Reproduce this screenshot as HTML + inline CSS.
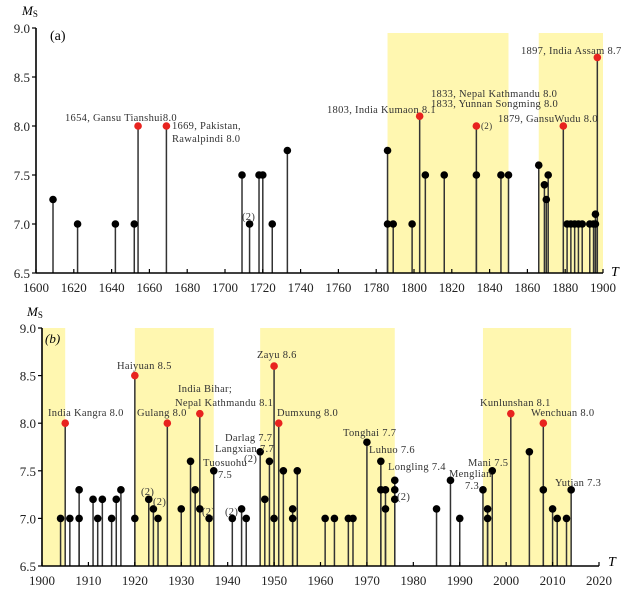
<!DOCTYPE html>
<html><head><meta charset="utf-8">
<style>
html,body{margin:0;padding:0;background:#fff;}
svg{display:block;font-family:"Liberation Serif",serif;}
.tk{font-size:13px;fill:#222;}
.an{font-size:10.5px;fill:#333;letter-spacing:0.3px;}
</style></head>
<body>
<svg id="chart" width="632" height="592" viewBox="0 0 632 592" xmlns="http://www.w3.org/2000/svg">
<g id="pa"></g>
<g id="pb"></g>
<g>
<text class="an" x="65" y="121">1654, Gansu Tianshui8.0</text>
<text class="an" x="172" y="129">1669, Pakistan,</text>
<text class="an" x="172" y="142">Rawalpindi 8.0</text>
<text class="an" x="242" y="220">(2)</text>
<text class="an" x="327" y="113">1803, India Kumaon 8.1</text>
<text class="an" x="431" y="97">1833, Nepal Kathmandu 8.0</text>
<text class="an" x="431" y="107">1833, Yunnan Songming 8.0</text>
<text class="an" x="481" y="129" style="font-size:9px">(2)</text>
<text class="an" x="498" y="122">1879, GansuWudu 8.0</text>
<text class="an" x="521" y="54">1897, India Assam 8.7</text>
<text x="50" y="40" style="font-size:14px">(a)</text>
<text x="22" y="15" style="font-size:13px"><tspan font-style="italic">M</tspan><tspan font-size="9" dy="2">S</tspan></text>
<text x="611" y="276" style="font-size:14px;font-style:italic">T</text>
</g>
<g>
<text x="45" y="343" style="font-size:13px;font-style:italic">(b)</text>
<text x="27" y="316" style="font-size:13px"><tspan font-style="italic">M</tspan><tspan font-size="9" dy="2">S</tspan></text>
<text x="608" y="566" style="font-size:14px;font-style:italic">T</text>
<text class="an" x="48" y="416">India Kangra 8.0</text>
<text class="an" x="117" y="369">Haiyuan 8.5</text>
<text class="an" x="137" y="416">Gulang 8.0</text>
<text class="an" x="178" y="392">India  Bihar;</text>
<text class="an" x="175" y="406">Nepal Kathmandu 8.1</text>
<text class="an" x="203" y="466">Tuosuohu</text>
<text class="an" x="218" y="478">7.5</text>
<text class="an" x="141" y="495">(2)</text>
<text class="an" x="153" y="505">(2)</text>
<text class="an" x="202" y="515">(2)</text>
<text class="an" x="225" y="515">(2)</text>
<text class="an" x="225" y="441">Darlag 7.7</text>
<text class="an" x="215" y="452">Langxian 7.7</text>
<text class="an" x="244" y="462">(2)</text>
<text class="an" x="257" y="358">Zayu 8.6</text>
<text class="an" x="277" y="416">Dumxung 8.0</text>
<text class="an" x="343" y="436">Tonghai 7.7</text>
<text class="an" x="369" y="453">Luhuo 7.6</text>
<text class="an" x="388" y="470">Longling 7.4</text>
<text class="an" x="397" y="500">(2)</text>
<text class="an" x="449" y="477">Menglian</text>
<text class="an" x="465" y="489">7.3</text>
<text class="an" x="468" y="466">Mani 7.5</text>
<text class="an" x="480" y="406">Kunlunshan 8.1</text>
<text class="an" x="531" y="416">Wenchuan 8.0</text>
<text class="an" x="555" y="486">Yutian 7.3</text>
</g>
</svg>
<script>
// Panel A data
const yearsA=[1609,1622,1642,1652,1654,1669,1709,1713,1718,1720,1725,1733,1786,1786,1789,1799,1803,1806,1816,1833,1833,1846,1850,1866,1869,1870,1871,1879,1881,1883,1885,1887,1889,1893,1895,1896,1896,1897];
const magsA=[7.25,7.0,7.0,7.0,8.0,8.0,7.5,7.0,7.5,7.5,7.0,7.75,7.75,7.0,7.0,7.0,8.1,7.5,7.5,8.0,7.5,7.5,7.5,7.6,7.4,7.25,7.5,8.0,7.0,7.0,7.0,7.0,7.0,7.0,7.0,7.1,7.0,8.7];
const redA=[0,0,0,0,1,1,0,0,0,0,0,0,0,0,0,0,1,0,0,1,0,0,0,0,0,0,0,1,0,0,0,0,0,0,0,0,0,1];
const shadeA=[[1786,1850],[1866,1900]];
const ticksXA=[1600,1620,1640,1660,1680,1700,1720,1740,1760,1780,1800,1820,1840,1860,1880,1900];
const ticksY=[6.5,7.0,7.5,8.0,8.5,9.0];
// Panel B data
const yearsB=[1904,1905,1906,1908,1908,1911,1912,1913,1915,1916,1917,1920,1920,1923,1924,1925,1927,1930,1932,1933,1934,1934,1936,1937,1941,1943,1944,1947,1948,1949,1950,1950,1951,1952,1954,1954,1955,1961,1963,1966,1967,1970,1973,1973,1974,1974,1976,1976,1976,1985,1988,1990,1995,1996,1996,1997,2001,2005,2008,2008,2010,2011,2013,2014];
const magsB=[7.0,8.0,7.0,7.3,7.0,7.2,7.0,7.2,7.0,7.2,7.3,8.5,7.0,7.2,7.1,7.0,8.0,7.1,7.6,7.3,8.1,7.1,7.0,7.5,7.0,7.1,7.0,7.7,7.2,7.6,8.6,7.0,8.0,7.5,7.1,7.0,7.5,7.0,7.0,7.0,7.0,7.8,7.6,7.3,7.3,7.1,7.4,7.3,7.2,7.1,7.4,7.0,7.3,7.1,7.0,7.5,8.1,7.7,8.0,7.3,7.1,7.0,7.0,7.3];
const redB=[0,1,0,0,0,0,0,0,0,0,0,1,0,0,0,0,1,0,0,0,1,0,0,0,0,0,0,0,0,0,1,0,1,0,0,0,0,0,0,0,0,0,0,0,0,0,0,0,0,0,0,0,0,0,0,0,1,0,1,0,0,0,0,0];
const shadeB=[[1900,1905],[1920,1937],[1947,1976],[1995,2014]];
const ticksXB=[1900,1910,1920,1930,1940,1950,1960,1970,1980,1990,2000,2010,2020];

const NS="http://www.w3.org/2000/svg";
function mk(p,t,a){const e=document.createElementNS(NS,t);for(const k in a)e.setAttribute(k,a[k]);p.appendChild(e);return e;}

function panel(g,cfg,years,mags,red,shade,ticksX){
  const sx=v=>cfg.x0+(v-cfg.t0)*(cfg.x1-cfg.x0)/(cfg.t1-cfg.t0);
  const sy=v=>cfg.yb+(v-6.5)*(cfg.yt-cfg.yb)/2.5;
  shade.forEach(s=>{
    const r=mk(g,'rect',{x:sx(s[0]),y:cfg.shTop,width:sx(s[1])-sx(s[0]),height:cfg.yb-cfg.shTop,fill:'#fff7b0'});
    
    
  });
  years.forEach((yr,i)=>{
    const l=mk(g,'line',{x1:sx(yr),x2:sx(yr),y1:cfg.yb,y2:sy(mags[i]),stroke:'#333','stroke-width':1.5});
    
    
  });
  years.forEach((yr,i)=>{
    const c=mk(g,'circle',{cx:sx(yr),cy:sy(mags[i]),r:3.8,fill:red[i]?'#e8231f':'#000'});
    
    
  });
  const ax=mk(g,'line',{x1:cfg.x0,x2:cfg.x1,y1:cfg.yb,y2:cfg.yb,stroke:'#000','stroke-width':1.6});
  
  
  const ay=mk(g,'line',{x1:cfg.x0,x2:cfg.x0,y1:cfg.yb,y2:cfg.yt,stroke:'#000','stroke-width':1.6});
  
  
  ticksX.forEach(t=>{
    mk(g,'line',{x1:sx(t),x2:sx(t),y1:cfg.yb,y2:cfg.yb-4,stroke:'#000','stroke-width':1.2});
    const tx=mk(g,'text',{x:sx(t),y:cfg.yb+19,'text-anchor':'middle',class:'tk'});
    tx.textContent=t;
    
    
  });
  ticksY.forEach(t=>{
    mk(g,'line',{x1:cfg.x0-4,x2:cfg.x0,y1:sy(t),y2:sy(t),stroke:'#000','stroke-width':1.2});
    const tx=mk(g,'text',{x:cfg.x0-6,y:sy(t)+5,'text-anchor':'end',class:'tk'});
    tx.textContent=t.toFixed(1);
    
    
  });
}
panel(document.getElementById('pa'),{x0:36,x1:603,t0:1600,t1:1900,yb:273,yt:28,shTop:33},yearsA,magsA,redA,shadeA,ticksXA);
panel(document.getElementById('pb'),{x0:42,x1:599,t0:1900,t1:2020,yb:566,yt:328,shTop:328},yearsB,magsB,redB,shadeB,ticksXB);
</script>
</body></html>
